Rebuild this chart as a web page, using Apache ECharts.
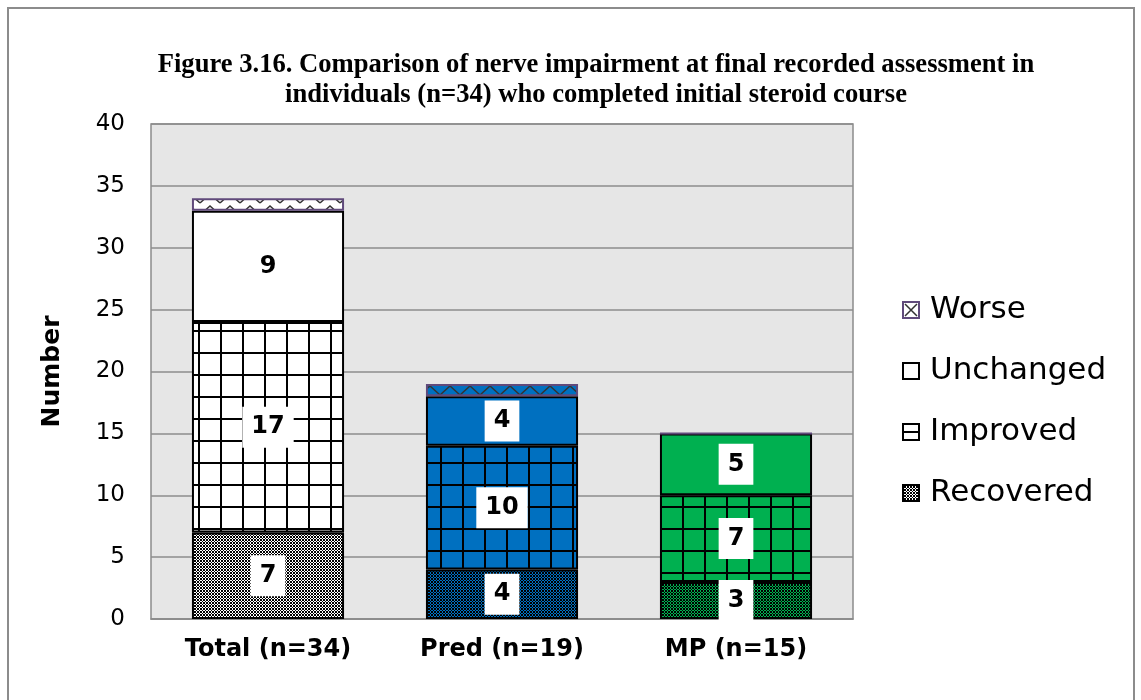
<!DOCTYPE html>
<html>
<head>
<meta charset="utf-8">
<script src="https://cdn.jsdelivr.net/npm/echarts@6/dist/echarts.min.js"></script>
<style>
html,body{margin:0;padding:0;background:#fff;}
#chart{width:1141px;height:700px;}
</style>
</head>
<body>
<div id="chart"></div>
<script>
// ---- data ----
const categories = ['Total (n=34)', 'Pred (n=19)', 'MP (n=15)'];
const recovered = [7, 4, 3];
const improved = [17, 10, 7];
const unchanged = [9, 4, 5];
const worse = [1, 1, 0];
const seriesNames = ['Recovered', 'Improved', 'Unchanged', 'Worse'];
const legendOrder = ['Worse', 'Unchanged', 'Improved', 'Recovered'];
const titleText = 'Figure 3.16. Comparison of nerve impairment at final recorded assessment in\nindividuals (n=34) who completed initial steroid course';
const yAxisName = 'Number';

// ---- styles ----
const baseColors = ['#ffffff', '#0070c0', '#00b050'];

function mk(w, h, draw) {
  const c = document.createElement('canvas');
  c.width = w; c.height = h;
  draw(c.getContext('2d'), w, h);
  return c;
}
function gridPattern(base) {
  return {
    image: mk(22, 22, (g, w, h) => {
      g.fillStyle = base; g.fillRect(0, 0, w, h);
      g.fillStyle = '#000';
      g.fillRect(0, 0, 2, h);
      g.fillRect(0, 0, w, 2);
    }), repeat: 'repeat'
  };
}
function dotPattern(base) {
  return {
    image: mk(6, 6, (g, w, h) => {
      g.fillStyle = '#000'; g.fillRect(0, 0, w, h);
      g.fillStyle = base;
      g.fillRect(1, 0, 1, 1); g.fillRect(4, 0, 1, 1);
      g.fillRect(0, 1, 1, 1); g.fillRect(2, 1, 1, 1); g.fillRect(3, 1, 1, 1); g.fillRect(5, 1, 1, 1);
      g.fillRect(1, 2, 1, 1); g.fillRect(4, 2, 1, 1);
      g.fillRect(1, 3, 1, 1); g.fillRect(4, 3, 1, 1);
      g.fillRect(0, 4, 1, 1); g.fillRect(2, 4, 1, 1); g.fillRect(3, 4, 1, 1); g.fillRect(5, 4, 1, 1);
      g.fillRect(1, 5, 1, 1); g.fillRect(4, 5, 1, 1);
    }), repeat: 'repeat'
  };
}
function zigPattern(base) {
  return {
    image: mk(20, 12, (g, w, h) => {
      g.fillStyle = base; g.fillRect(0, 0, w, h);
      g.strokeStyle = '#333'; g.lineWidth = 1.5;
      g.beginPath(); g.moveTo(0, 11); g.lineTo(10, 2); g.lineTo(20, 11); g.stroke();
    }), repeat: 'repeat'
  };
}
function solid(base) { return base; }

const styleFns = [dotPattern, gridPattern, solid, zigPattern];
const values = [recovered, improved, unchanged, worse];

function iconURL(kind) {
  return 'image://' + mk(18, 18, (g, w, h) => {
    g.fillStyle = '#fff'; g.fillRect(0, 0, w, h);
    if (kind === 'Recovered') {
      const p = g.createPattern(dotPattern('#ffffff').image, 'repeat');
      g.fillStyle = p; g.fillRect(1, 1, 16, 16);
      g.strokeStyle = '#000'; g.lineWidth = 2; g.strokeRect(1, 1, 16, 16);
    } else if (kind === 'Improved') {
      g.strokeStyle = '#000'; g.lineWidth = 2; g.strokeRect(1, 1, 16, 16);
      g.fillStyle = '#000'; g.fillRect(1, 8, 16, 2);
    } else if (kind === 'Unchanged') {
      g.strokeStyle = '#000'; g.lineWidth = 2; g.strokeRect(1, 1, 16, 16);
    } else {
      g.strokeStyle = '#333'; g.lineWidth = 1.5;
      g.beginPath(); g.moveTo(3, 3); g.lineTo(15, 15); g.moveTo(15, 3); g.lineTo(3, 15); g.stroke();
      g.strokeStyle = '#604a7b'; g.lineWidth = 2; g.strokeRect(1, 1, 16, 16);
    }
  }).toDataURL();
}

const series = seriesNames.map((name, si) => ({
  name: name,
  type: 'bar',
  stack: 'total',
  barWidth: '65%',
  data: values[si].map((v, ci) => ({
    value: v,
    itemStyle: {
      color: styleFns[si](baseColors[ci]),
      borderColor: si === 3 ? '#604a7b' : '#000',
      borderWidth: 2
    }
  })),
  label: {
    show: si !== 3,
    position: 'inside',
    formatter: p => p.value > 0 ? String(p.value) : '',
    backgroundColor: '#fff',
    color: '#000',
    fontFamily: 'DejaVu Sans',
    fontWeight: 'bold',
    fontSize: 24,
    lineHeight: 24,
    padding: [9, 9, 8, 9]
  },
  emphasis: { disabled: true }
}));

const chart = echarts.init(document.getElementById('chart'));
chart.setOption({
  animation: false,
  backgroundColor: '#fff',
  graphic: [{
    type: 'rect', z: -10, silent: true,
    shape: { x: 8, y: 8, width: 1126, height: 700 },
    style: { fill: 'none', stroke: '#8c8c8c', lineWidth: 2 }
  }],
  title: {
    text: titleText,
    left: 591, top: 45, textAlign: 'center',
    textStyle: { fontFamily: 'Liberation Serif', fontWeight: 'bold', fontSize: 26.6, lineHeight: 30, color: '#000' }
  },
  legend: {
    orient: 'vertical',
    left: 897, top: 287,
    itemWidth: 18, itemHeight: 18, itemGap: 25,
    selectedMode: false,
    data: legendOrder.map(n => ({ name: n, icon: iconURL(n) })),
    textStyle: { fontFamily: 'DejaVu Sans', fontSize: 31, color: '#000', lineHeight: 36, padding: [0, 0, 0, 5] }
  },
  grid: {
    left: 151, right: 288, top: 124, bottom: 81,
    show: true, backgroundColor: '#e6e6e6', borderColor: '#8c8c8c', borderWidth: 1.5
  },
  xAxis: {
    type: 'category',
    data: categories,
    axisTick: { show: false },
    axisLine: { lineStyle: { color: '#8c8c8c', width: 1.5 } },
    axisLabel: { fontFamily: 'DejaVu Sans', fontWeight: 'bold', fontSize: 24, color: '#000', margin: 19 }
  },
  yAxis: {
    type: 'value',
    min: 0, max: 40, interval: 5,
    name: yAxisName,
    nameLocation: 'middle',
    nameGap: 86,
    nameTextStyle: { fontFamily: 'DejaVu Sans', fontWeight: 'bold', fontSize: 25, color: '#000' },
    axisLine: { show: false },
    axisTick: { show: false },
    axisLabel: { fontFamily: 'DejaVu Sans', fontSize: 23, color: '#000', margin: 26 },
    splitLine: { lineStyle: { color: '#8c8c8c', width: 1.5 } }
  },
  series: series
});
</script>
</body>
</html>
